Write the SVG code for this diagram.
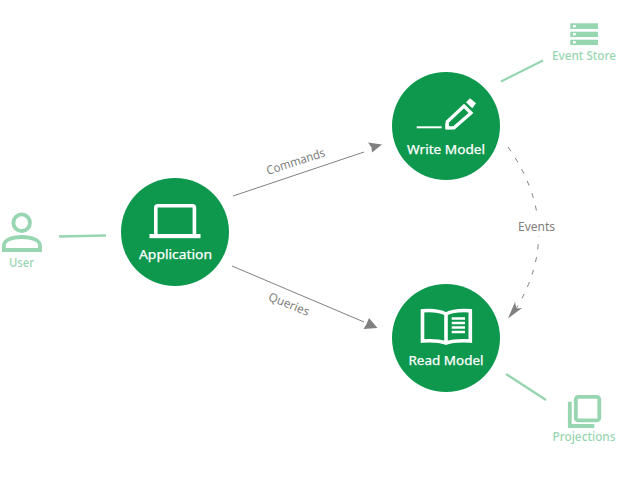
<svg xmlns="http://www.w3.org/2000/svg" width="640" height="480" viewBox="0 0 640 480">
<style>
text{font-family:"Noto Sans","Open Sans","DejaVu Sans",sans-serif;text-anchor:middle}
.c{fill:#0e984e}
.w{fill:#fff;stroke:#fff;stroke-width:.25;font-size:13px;font-weight:400}
.ws{fill:none;stroke:#fff;stroke-width:3.600}
.wf{fill:#fff}
.lt{fill:#98d5b1;font-size:12px;font-weight:500}
.ls{fill:none;stroke:#98d5b1;stroke-width:3.800}
.lf{fill:#98d5b1}
.g{fill:#808080;font-size:12px}
.cn{fill:none;stroke:#808080;stroke-width:1}
.ln{fill:none;stroke:#98d5b1;stroke-width:2.400}
.ah{fill:#808080}
</style>
<rect width="640" height="480" fill="#fff"/>
<g id="connectors">
<path class="ln" d="M59 236.500L106 235.500"/>
<path class="ln" d="M501 81.500L543 60.500"/>
<path class="ln" d="M506 374L546 400"/>
<path class="cn" d="M233 196L364 152"/>
<path class="ah" d="M368 142.500L382 144.500L372 152.500L371.500 147.500Z"/>
<path class="cn" d="M232 266L364 322"/>
<path class="ah" d="M369 318L377.500 328L363.500 329L366.500 324Z"/>
<path class="cn" stroke-dasharray="5 8" d="M508 147Q565 228 516 309"/>
<path class="ah" d="M508 318.500L515 302L516.500 308.500L522 308Z"/>
</g>
<g id="label-commands"><text class="g" transform="translate(297 165.500) rotate(-18)" textLength="61" lengthAdjust="spacingAndGlyphs">Commands</text></g>
<g id="label-queries"><text class="g" transform="translate(287.500 308) rotate(22)" textLength="43" lengthAdjust="spacingAndGlyphs">Queries</text></g>
<g id="label-events"><rect x="515" y="218" width="43" height="18" fill="#fff"/><text class="g" x="536.500" y="231" textLength="37" lengthAdjust="spacingAndGlyphs">Events</text></g>
<g id="user">
<circle class="ls" cx="21.700" cy="222.700" r="8.300"/>
<path class="ls" d="M3.900 250V245.500C3.900 240.500 11 237 21.700 237S40 240.500 40 245.500V250Z"/>
<text class="lt" x="21.500" y="267" textLength="25" lengthAdjust="spacingAndGlyphs">User</text>
</g>
<g id="application">
<circle class="c" cx="175" cy="232" r="54"/>
<path class="ws" d="M155.800 235V207.700Q155.800 205.800 157.700 205.800H192.500Q194.400 205.800 194.400 207.700V235"/>
<rect class="wf" x="149.500" y="234" width="51" height="4.200"/>
<text class="w" x="175.500" y="259" textLength="73" lengthAdjust="spacingAndGlyphs">Application</text>
</g>
<g id="write-model">
<circle class="c" cx="446" cy="126" r="54"/>
<path class="wf" d="M416.700 126.300H441.700V128.300H416.700Z"/>
<path class="ws" style="stroke-width:3.300" d="M447.300 127.800V121.700L464 106L471 113L454 127.800Z"/>
<path class="wf" d="M445.300 129.300V123L452 129.300Z"/>
<path class="wf" d="M466 102.300L470 98.300L476 103.300L472.300 108.300Z"/>
<text class="w" x="446" y="153.500" textLength="78" lengthAdjust="spacingAndGlyphs">Write Model</text>
</g>
<g id="read-model">
<circle class="c" cx="446" cy="338" r="54"/>
<path class="ws" d="M422.500 310.800Q437 309.500 446 314Q455 309.500 470.300 310.800V341Q455 340 446 343Q437 340 422.500 341ZM446 314V343"/>
<path class="ws" style="stroke-width:2.600" d="M451.700 318.500H465M451.700 323H465M451.700 327.500H465M451.700 332H465"/>
<text class="w" x="446" y="365" textLength="75" lengthAdjust="spacingAndGlyphs">Read Model</text>
</g>
<g id="event-store">
<rect class="lf" x="570.300" y="23.300" width="27.700" height="5.700"/>
<rect class="lf" x="570.300" y="31.700" width="27.700" height="5.400"/>
<rect class="lf" x="570.300" y="39.700" width="27.700" height="5.400"/>
<rect class="wf" x="573" y="25" width="2.700" height="2.400"/>
<rect class="wf" x="573" y="33" width="2.700" height="2.400"/>
<rect class="wf" x="573" y="41" width="2.700" height="2.400"/>
<text class="lt" x="584" y="60" textLength="64" lengthAdjust="spacingAndGlyphs">Event Store</text>
</g>
<g id="projections">
<rect class="ls" x="575.800" y="396.900" width="23.500" height="23.500" rx="2.500"/>
<path class="ls" d="M569.800 401.700V426H594.300"/>
<text class="lt" x="584" y="441" textLength="63" lengthAdjust="spacingAndGlyphs">Projections</text>
</g>
</svg>
